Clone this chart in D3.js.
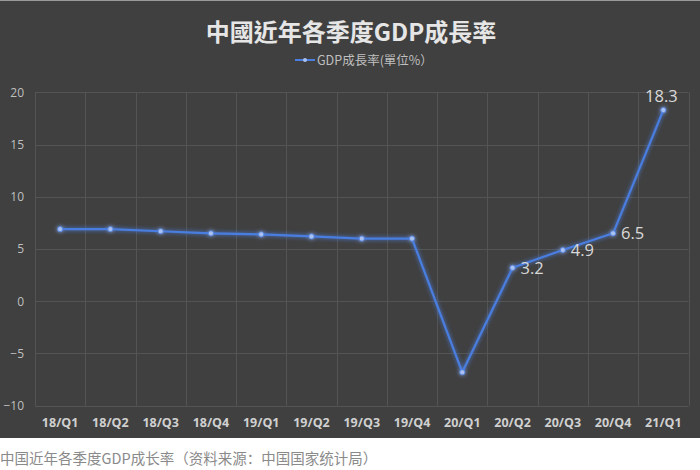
<!DOCTYPE html>
<html><head><meta charset="utf-8">
<script src="https://cdn.jsdelivr.net/npm/d3@7"></script>
<style>
body{margin:0;background:#fff;}
svg{display:block;}
</style></head>
<body>
<script>
const categories = ["18/Q1","18/Q2","18/Q3","18/Q4","19/Q1","19/Q2","19/Q3","19/Q4","20/Q1","20/Q2","20/Q3","20/Q4","21/Q1"];
const values = [6.9,6.9,6.7,6.5,6.4,6.2,6.0,6.0,-6.8,3.2,4.9,6.5,18.3];
const labeledIdx = [9,10,11,12];
const yTicks = [-10,-5,0,5,10,15,20];
const title = "中國近年各季度GDP成長率";
const legendLabel = "GDP成長率(單位%）";
const caption = "中国近年各季度GDP成长率（资料来源：中国国家统计局）";

(function(){
const W = 700, H = 470;
const svg = d3.select("body").append("svg").attr("width", W).attr("height", H);

const defs = svg.append("defs");
const f = defs.append("filter").attr("id","glow").attr("x","-20%").attr("y","-20%").attr("width","140%").attr("height","140%");
f.append("feGaussianBlur").attr("in","SourceGraphic").attr("stdDeviation",2.2).attr("result","b");
const m = f.append("feMerge");
m.append("feMergeNode").attr("in","b");
m.append("feMergeNode").attr("in","SourceGraphic");

svg.append("rect").attr("x",0).attr("y",0).attr("width",W).attr("height",438).attr("fill","#404040");
svg.append("line").attr("x1",0).attr("x2",W).attr("y1",0.5).attr("y2",0.5).attr("stroke","#9a9a9a");

const pL = 35, pR = 688.5, pT = 92.3, pB = 405.7;
const x = d3.scaleBand().domain(categories).range([pL, pR]).padding(0);
const y = d3.scaleLinear().domain([-10, 20]).range([pB, pT]);

svg.append("g").selectAll("line").data(yTicks).join("line")
  .attr("x1", pL).attr("x2", pR)
  .attr("y1", d => Math.round(y(d)) + 0.5).attr("y2", d => Math.round(y(d)) + 0.5)
  .attr("stroke", "#545454").attr("stroke-width", 1);
const bounds = categories.map(c => x(c)).concat([pR]);
svg.append("g").selectAll("line").data(bounds).join("line")
  .attr("x1", d => Math.round(d) + 0.5).attr("x2", d => Math.round(d) + 0.5)
  .attr("y1", pT).attr("y2", pB)
  .attr("stroke", "#545454").attr("stroke-width", 1);

const yAxis = d3.axisLeft(y).tickValues(yTicks).tickSize(0).tickPadding(0);
const yg = svg.append("g").attr("transform", `translate(${pL - 11},0)`).call(yAxis);
yg.select(".domain").remove();
yg.selectAll("text").attr("fill", "#bfbfbf").attr("font-family", "'Open Sans', 'Noto Sans', sans-serif").attr("font-size", 12);

const xAxis = d3.axisBottom(x).tickSize(0).tickPadding(0);
const xg = svg.append("g").attr("transform", `translate(0,${pB + 12})`).call(xAxis);
xg.select(".domain").remove();
xg.selectAll("text").attr("fill", "#d0d0d0").attr("font-family", "'Open Sans', 'Noto Sans', sans-serif").attr("font-size", 12.5).attr("font-weight", "bold");

const pts = categories.map((c, i) => ({c, v: values[i], i}));
const line = d3.line().x(d => x(d.c) + x.bandwidth() / 2).y(d => y(d.v));
const lg = svg.append("g").attr("filter", "url(#glow)");
lg.append("path").datum(pts).attr("d", line).attr("fill", "none").attr("stroke", "#4a7ee0").attr("stroke-width", 2.2).attr("stroke-linejoin","round");
lg.selectAll("circle").data(pts).join("circle")
  .attr("cx", d => x(d.c) + x.bandwidth() / 2).attr("cy", d => y(d.v)).attr("r", 2.6)
  .attr("fill", "#a9c1f0").attr("stroke", "#4a7ee0").attr("stroke-width", 0.8);

svg.append("g").selectAll("text").data(pts.filter(d => labeledIdx.includes(d.i))).join("text")
  .attr("x", d => d.i === 12 ? x(d.c) + x.bandwidth() / 2 - 2 : x(d.c) + x.bandwidth() / 2 + 8)
  .attr("y", d => d.i === 12 ? y(d.v) - 8 : y(d.v) + 6)
  .attr("text-anchor", d => d.i === 12 ? "middle" : "start")
  .attr("fill", "#d9d9d9").attr("font-family", "'Open Sans', 'Noto Sans', sans-serif").attr("font-size", 16.5)
  .text(d => d.v.toFixed(1));

svg.append("text").attr("x", 351).attr("y", 41).attr("text-anchor", "middle")
  .attr("fill", "#e6e6e6").attr("font-family", "'Noto Sans CJK TC', sans-serif").attr("font-weight", "bold").attr("font-size", 24)
  .text(title);

svg.append("line").attr("x1", 295).attr("x2", 315).attr("y1", 60).attr("y2", 60).attr("stroke", "#4a7ee0").attr("stroke-width", 2);
svg.append("circle").attr("cx", 305).attr("cy", 60).attr("r", 2).attr("fill", "#a9c1f0");
svg.append("text").attr("x", 317).attr("y", 64.5).attr("fill", "#bfbfbf")
  .attr("font-family", "'Noto Sans CJK TC', sans-serif").attr("font-size", 12.5).text(legendLabel);

svg.append("text").attr("x", 0).attr("y", 464).attr("fill", "#8a8a8a")
  .attr("font-family", "'Noto Sans CJK SC', sans-serif").attr("font-size", 14.5).text(caption);
})();
</script>
</body></html>
